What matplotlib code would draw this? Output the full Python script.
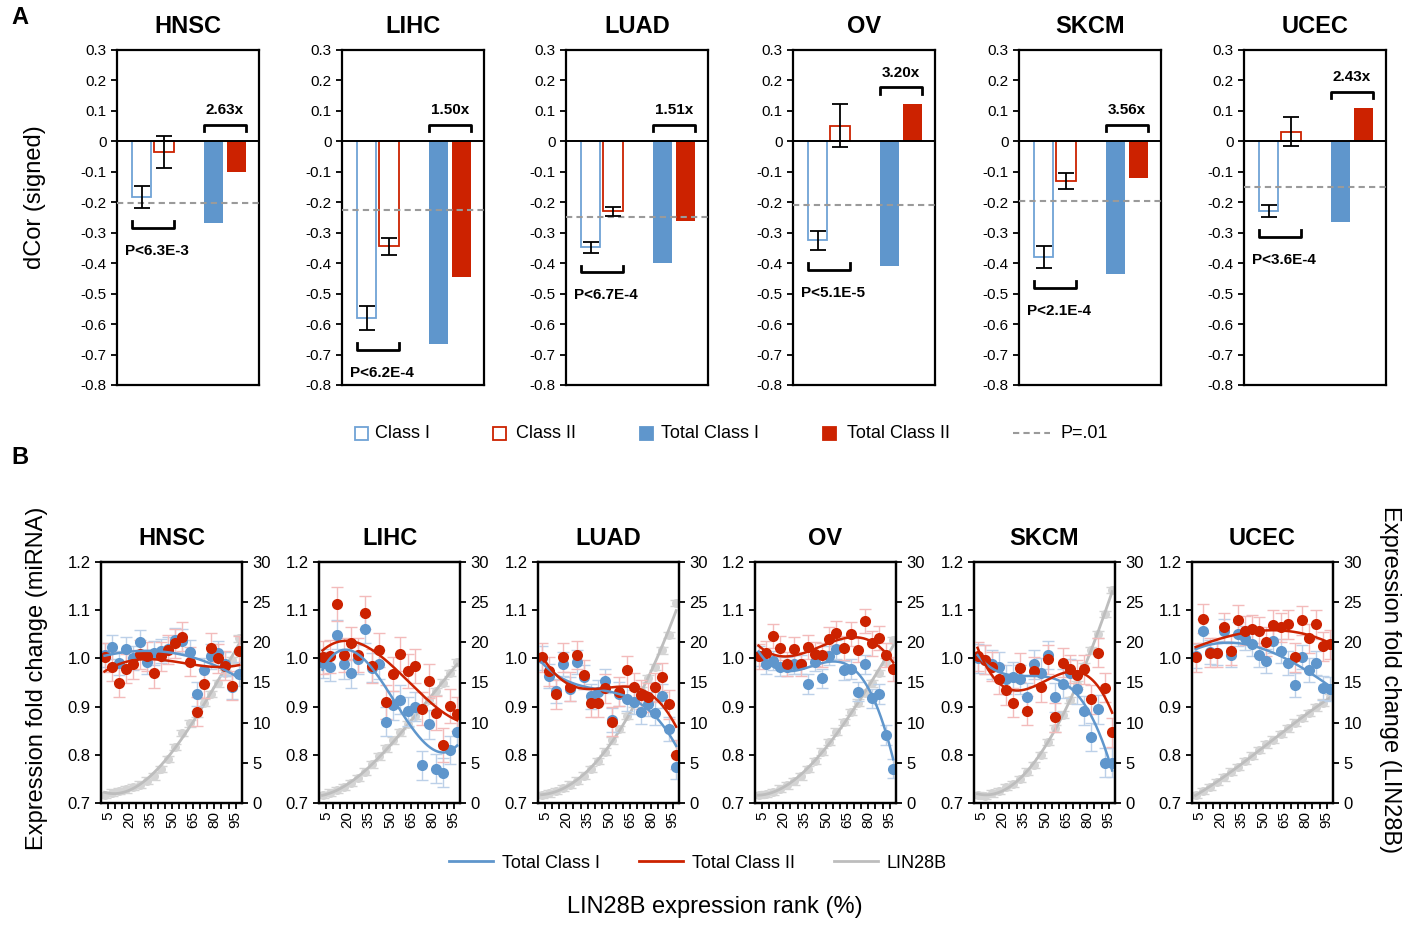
import numpy as np
import matplotlib.pyplot as plt
from matplotlib.patches import Rectangle
from matplotlib.lines import Line2D

plt.rcParams['font.family'] = ['Liberation Sans', 'DejaVu Sans']
plt.rcParams['axes.unicode_minus'] = False

BLUE = '#5F96CC'
BLUE_EDGE = '#6FA2D6'
RED = '#CC2200'
BLUE_LIGHT = '#BCD0E8'
RED_LIGHT = '#F3BBBB'
GRAY = '#BDBDBD'
GRAY_LIGHT = '#D4D4D4'

cancers = ['HNSC', 'LIHC', 'LUAD', 'OV', 'SKCM', 'UCEC']

# ---- panel A: signed dCor ----
class1 = [-0.183, -0.580, -0.348, -0.325, -0.380, -0.228]
class1_err = [0.036, 0.039, 0.017, 0.032, 0.036, 0.020]
class2 = [-0.035, -0.345, -0.230, 0.052, -0.130, 0.032]
class2_err = [0.052, 0.029, 0.014, 0.072, 0.025, 0.047]
total1 = [-0.268, -0.666, -0.400, -0.408, -0.437, -0.266]
total2 = [-0.101, -0.444, -0.263, 0.124, -0.119, 0.108]
p01 = [-0.201, -0.226, -0.249, -0.209, -0.195, -0.150]
p_text = ['P<6.3E-3', 'P<6.2E-4', 'P<6.7E-4', 'P<5.1E-5', 'P<2.1E-4', 'P<3.6E-4']
fold_text = ['2.63x', '1.50x', '1.51x', '3.20x', '3.56x', '2.43x']

# ---- panel B: fold change vs LIN28B rank ----
rank = [2.5, 7.5, 12.5, 17.5, 22.5, 27.5, 32.5, 37.5, 42.5, 47.5,
        52.5, 57.5, 62.5, 67.5, 72.5, 77.5, 82.5, 87.5, 92.5, 97.5]

fc_class1 = {
    'HNSC': [1.007, 1.023, 0.991, 1.020, 1.000, 1.034, 0.993, 1.012, 1.016, 1.019,
             1.038, 1.036, 1.014, 0.927, 0.975, 1.004, 1.011, 0.988, 0.941, 0.968],
    'LIHC': [0.990, 0.983, 1.049, 0.988, 0.969, 0.998, 1.061, 0.981, 0.988, 0.869,
             0.903, 0.914, 0.890, 0.900, 0.778, 0.863, 0.771, 0.763, 0.810, 0.848],
    'LUAD': [1.000, 0.964, 0.933, 0.988, 0.937, 0.993, 0.962, 0.921, 0.931, 0.954,
             0.872, 0.926, 0.915, 0.909, 0.889, 0.905, 0.886, 0.922, 0.853, 0.775],
    'OV':   [1.005, 0.988, 0.995, 0.983, 0.983, 0.988, 0.988, 0.947, 0.993, 0.959,
             1.006, 1.019, 0.975, 0.978, 0.931, 0.988, 0.917, 0.926, 0.841, 0.771],
    'SKCM': [1.000, 0.997, 0.988, 0.983, 0.957, 0.962, 0.957, 0.919, 0.988, 0.970,
             1.007, 0.919, 0.947, 0.969, 0.936, 0.891, 0.837, 0.894, 0.784, 0.784],
    'UCEC': [1.005, 1.057, 1.014, 1.011, 1.057, 1.007, 1.050, 1.042, 1.030, 1.007,
             0.995, 1.037, 1.016, 0.991, 0.945, 1.002, 0.976, 0.991, 0.938, 0.936],
}
fc_class2 = {
    'HNSC': [1.002, 0.983, 0.950, 0.979, 0.988, 1.009, 1.004, 0.969, 1.004, 1.018,
             1.031, 1.045, 0.993, 0.889, 0.947, 1.022, 1.000, 0.985, 0.943, 1.016],
    'LIHC': [1.002, 1.004, 1.113, 1.007, 1.031, 1.007, 1.095, 0.985, 1.017, 0.910,
             0.967, 1.009, 0.974, 0.985, 0.896, 0.953, 0.886, 0.820, 0.901, 0.884],
    'LUAD': [1.002, 0.973, 0.926, 1.002, 0.941, 1.007, 0.966, 0.908, 0.908, 0.938,
             0.869, 0.931, 0.975, 0.940, 0.925, 0.919, 0.940, 0.961, 0.905, 0.800],
    'OV':   [1.004, 1.011, 1.047, 1.021, 0.988, 1.019, 0.988, 1.024, 1.009, 1.007,
             1.040, 1.052, 1.021, 1.051, 1.018, 1.078, 1.031, 1.042, 1.007, 0.978],
    'SKCM': [1.004, 0.997, 0.983, 0.957, 0.934, 0.908, 0.981, 0.891, 0.973, 0.940,
             0.998, 0.878, 0.991, 0.978, 0.966, 0.977, 0.915, 1.012, 0.939, 0.847],
    'UCEC': [1.002, 1.082, 1.012, 1.012, 1.065, 1.016, 1.080, 1.057, 1.061, 1.056,
             1.035, 1.070, 1.065, 1.071, 1.002, 1.079, 1.042, 1.071, 1.025, 1.029],
}
lin28b = {
    'HNSC': [1.0, 1.3, 1.5, 1.7, 2.0, 2.3, 2.8, 3.3, 4.2, 5.5,
             7.0, 8.7, 9.9, 11.1, 12.5, 13.6, 14.9, 16.2, 17.8, 20.5],
    'LIHC': [1.0, 1.3, 1.6, 2.0, 2.5, 3.1, 3.9, 4.8, 5.8, 6.8,
             7.8, 8.8, 9.8, 10.8, 11.8, 12.8, 13.9, 15.0, 16.2, 17.5],
    'LUAD': [1.0, 1.2, 1.5, 1.9, 2.3, 2.8, 3.4, 4.2, 5.2, 6.4,
             7.8, 9.2, 10.8, 12.4, 14.1, 15.5, 16.9, 19.0, 20.9, 24.9],
    'OV':   [1.0, 1.1, 1.4, 1.8, 2.2, 2.7, 3.3, 4.2, 5.2, 6.4,
             7.6, 8.9, 10.1, 11.3, 12.5, 13.7, 14.9, 16.2, 17.6, 20.3],
    'SKCM': [1.0, 0.9, 1.2, 1.5, 2.0, 2.4, 3.0, 3.9, 4.7, 6.0,
             7.6, 9.3, 11.0, 12.8, 14.8, 17.0, 19.0, 21.0, 23.5, 26.5],
    'UCEC': [1.0, 1.5, 2.0, 2.6, 3.2, 3.9, 4.5, 5.2, 5.9, 6.6,
             7.3, 7.9, 8.6, 9.3, 10.0, 10.6, 11.2, 11.9, 12.5, 13.2],
}
err_class1 = [0.025, 0.030, 0.025, 0.020, 0.030, 0.025]
err_class2 = [0.030, 0.035, 0.030, 0.025, 0.030, 0.030]
err_lin28b = [0.4, 0.4, 0.4, 0.4, 0.4, 0.4]

W, H = 1424, 925
fig = plt.figure(figsize=(W / 100, H / 100), dpi=100)

# ---------------- Panel A ----------------
a_left = [117, 342, 566, 793, 1019, 1244]
bar_x = [1.22, 2.32, 4.75, 5.88]
bw = 0.95
for i, name in enumerate(cancers):
    ax = fig.add_axes([a_left[i] / W, 1 - 385 / H, 142 / W, 335 / H])
    ax.bar(bar_x[0], class1[i], width=bw, facecolor='white', edgecolor=BLUE_EDGE, linewidth=1.3, zorder=2)
    ax.bar(bar_x[1], class2[i], width=bw, facecolor='white', edgecolor=RED, linewidth=1.3, zorder=2)
    ax.bar(bar_x[2], total1[i], width=bw, color=BLUE, zorder=2)
    ax.bar(bar_x[3], total2[i], width=bw, color=RED, zorder=2)
    ax.errorbar(bar_x[:2], [class1[i], class2[i]], yerr=[class1_err[i], class2_err[i]],
                fmt='none', ecolor='black', elinewidth=1.3, capsize=5.5, capthick=1.3, zorder=4)
    ax.axhline(0, color='black', lw=1.4, zorder=3)
    ax.axhline(p01[i], color='#9A9A9A', lw=1.5, ls=(0, (3, 2)), zorder=3)

    # bracket below Class I / Class II
    yb = min(class1[i] - class1_err[i], class2[i] - class2_err[i]) - 0.065
    x0, x1 = bar_x[0] - bw / 2, bar_x[1] + bw / 2
    ax.plot([x0, x0, x1, x1], [yb + 0.022, yb, yb, yb + 0.022], color='black', lw=2, zorder=4)
    ax.text((x0 + x1) / 2 + 0.2, yb - 0.075, p_text[i], ha='center', va='center',
            fontsize=11, fontweight='bold')
    # bracket above totals
    yt = max(total1[i], total2[i], 0) + 0.055
    x0, x1 = bar_x[2] - bw / 2, bar_x[3] + bw / 2
    ax.plot([x0, x0, x1, x1], [yt - 0.022, yt, yt, yt - 0.022], color='black', lw=2, zorder=4)
    ax.text((x0 + x1) / 2, yt + 0.047, fold_text[i], ha='center', va='center',
            fontsize=11, fontweight='bold')

    ax.set_xlim(0, 7)
    ax.set_ylim(-0.8, 0.3)
    yt_vals = np.round(np.arange(-0.8, 0.31, 0.1), 1)
    ax.set_yticks(yt_vals)
    ax.set_yticklabels(['0' if v == 0 else f'{v:.1f}' for v in yt_vals])
    ax.set_xticks([])
    ax.tick_params(axis='y', direction='out', length=4, width=1.3, labelsize=11)
    for s in ax.spines.values():
        s.set_linewidth(1.6)
    ax.set_title(name, fontsize=17, fontweight='bold', pad=12)

fig.text(20 / W, 1 - 18 / H, 'A', fontsize=17, fontweight='bold', ha='center', va='center')
fig.text(35 / W, 1 - 197 / H, 'dCor (signed)', rotation=90, fontsize=17, ha='center', va='center')

# legend A (drawn by hand to mimic spacing)
leg_y = 1 - 433 / H
sq = 13
items = [(355, 'white', BLUE_EDGE, 'Class I', 375),
         (493, 'white', RED, 'Class II', 516),
         (640, BLUE, BLUE, 'Total Class I', 661),
         (823, RED, RED, 'Total Class II', 847)]
for x, fc, ec, lab, tx in items:
    fig.patches.append(Rectangle((x / W, leg_y - sq / 2 / H), sq / W, sq / H,
                                 transform=fig.transFigure, facecolor=fc, edgecolor=ec, lw=1.3))
    fig.text(tx / W, leg_y, lab, fontsize=13, va='center', ha='left')
fig.lines.append(Line2D([1013 / W, 1050 / W], [leg_y, leg_y], transform=fig.transFigure,
                        color='#9A9A9A', lw=1.5, ls=(0, (3, 2))))
fig.text(1061 / W, leg_y, 'P=.01', fontsize=13, va='center', ha='left')

# ---------------- Panel B ----------------
b_left = [101, 319, 538, 755, 974, 1192]
xs = np.linspace(rank[0], rank[-1], 200)
for i, name in enumerate(cancers):
    ax = fig.add_axes([b_left[i] / W, 1 - 803 / H, 141 / W, 241 / H])
    ax2 = ax.twinx()

    g = lin28b[name]
    ax2.errorbar(rank, g, yerr=err_lin28b[i], fmt='none', ecolor=GRAY_LIGHT,
                 elinewidth=1, capsize=4.5, zorder=1)
    ax2.plot(rank, g, 'o', color=GRAY_LIGHT, ms=6.5, mec='none', zorder=2)
    ax2.plot(xs, np.polyval(np.polyfit(rank, g, 3), xs), color=GRAY, lw=2, zorder=3)

    b = fc_class1[name]
    r = fc_class2[name]
    ax.errorbar(rank, b, yerr=err_class1[i], fmt='none', ecolor=BLUE_LIGHT,
                elinewidth=1, capsize=4.5, zorder=1)
    ax.errorbar(rank, r, yerr=err_class2[i], fmt='none', ecolor=RED_LIGHT,
                elinewidth=1, capsize=4.5, zorder=1)
    ax.plot(rank, b, 'o', color=BLUE, ms=8, mec='none', zorder=2)
    ax.plot(rank, r, 'o', color=RED, ms=8, mec='none', zorder=2.1)
    # polynomial trend lines, as in the spreadsheet original
    ax.plot(xs, np.polyval(np.polyfit(rank, b, 3), xs), color=BLUE, lw=1.8, zorder=3)
    ax.plot(xs, np.polyval(np.polyfit(rank, r, 3), xs), color=RED, lw=1.8, zorder=3)

    ax.set_zorder(ax2.get_zorder() + 1)
    ax.patch.set_visible(False)

    ax.set_xlim(0, 99.5)
    ax.set_ylim(0.7, 1.2)
    ax2.set_ylim(0, 30)
    yl = np.round(np.arange(0.7, 1.21, 0.1), 1)
    ax.set_yticks(yl)
    ax.set_yticklabels([f'{v:.1f}' for v in yl])
    ax2.set_yticks(range(0, 31, 5))
    xt = list(range(5, 100, 5))
    ax.set_xticks(xt)
    ax.set_xticklabels([str(v) if (v - 5) % 15 == 0 else '' for v in xt], rotation=90)
    ax.tick_params(axis='y', direction='out', length=4, width=1.3, labelsize=12)
    ax.tick_params(axis='x', direction='out', length=4, width=1.3, labelsize=11, pad=2)
    ax2.tick_params(axis='y', direction='out', length=4, width=1.3, labelsize=12)
    for s in list(ax.spines.values()) + list(ax2.spines.values()):
        s.set_linewidth(1.6)
    ax.set_title(name, fontsize=17, fontweight='bold', pad=12)

fig.text(20 / W, 1 - 457 / H, 'B', fontsize=17, fontweight='bold', ha='center', va='center')
fig.text(37 / W, 1 - 678 / H, 'Expression fold change (miRNA)', rotation=90,
         fontsize=17, ha='center', va='center')
fig.text(1390 / W, 1 - 680 / H, 'Expression fold change (LIN28B)', rotation=270,
         fontsize=17, ha='center', va='center')
fig.text(715 / W, 1 - 907 / H, 'LIN28B expression rank (%)', fontsize=17, ha='center', va='center')

handles = [Line2D([], [], color=BLUE, lw=2), Line2D([], [], color=RED, lw=2),
           Line2D([], [], color=GRAY, lw=2)]
fig.legend(handles, ['Total Class I', 'Total Class II', 'LIN28B'], loc='center',
           bbox_to_anchor=(698 / W, 1 - 863 / H), ncol=3, frameon=False, fontsize=13,
           handlelength=2.4, handletextpad=0.5, columnspacing=2.2)

fig.savefig('out.png', dpi=100)
